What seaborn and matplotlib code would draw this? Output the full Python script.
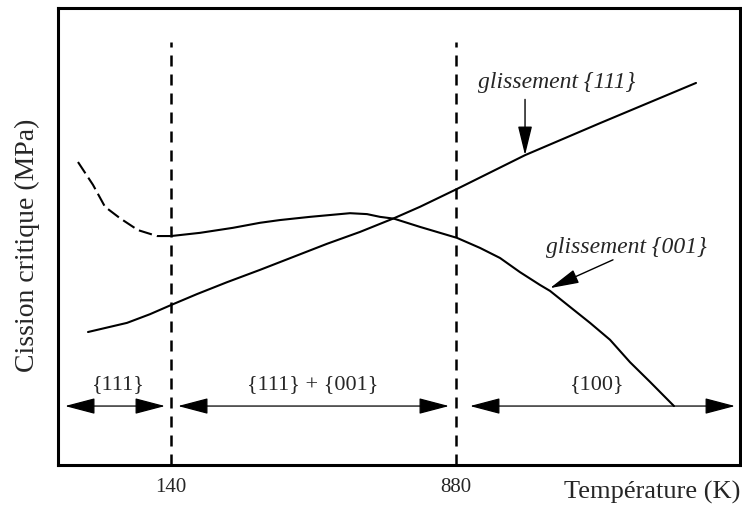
import matplotlib
matplotlib.use("Agg")
import matplotlib.pyplot as plt
import seaborn as sns
import pandas as pd

# Schematic axes: temperature position (0-100) and critical resolved shear stress (0-100, arbitrary)
tick_pos = [16.57, 58.36]
tick_labels = ["140", "880"]

# glissement {111}
t111 = [4.40, 10.12, 13.49, 16.57, 20.38, 24.78, 29.62, 39.44, 44.28, 49.27, 53.08,
        58.50, 68.48, 79.47, 93.55]
s111 = [29.1, 31.1, 33.0, 35.0, 37.4, 40.0, 42.7, 48.4, 51.0, 54.0, 56.5,
        60.4, 67.8, 74.8, 83.6]

# glissement {001}, low-temperature extrapolation (dashed)
t001_low = [2.93, 5.13, 6.89, 9.09, 11.73, 14.52, 16.57]
s001_low = [66.3, 61.3, 56.5, 54.0, 51.4, 50.1, 50.1]

# glissement {001}, solid part
t001 = [16.57, 20.82, 25.66, 29.62, 32.55, 36.95, 39.88, 42.82, 45.31, 47.21, 49.27,
        53.08, 58.50, 61.88, 64.81, 67.74, 70.67, 72.14, 75.07, 78.01, 80.94, 83.87,
        86.80, 90.32]
s001 = [50.1, 50.8, 51.9, 53.0, 53.6, 54.3, 54.7, 55.1, 54.9, 54.3, 53.9,
        52.1, 49.7, 47.5, 45.3, 42.2, 39.4, 38.1, 34.6, 31.1, 27.4, 22.5,
        18.2, 12.9]

# Active slip-system domains
domain_labels = ["{111}", "{111} + {001}", "{100}"]
domain_start = [1.03, 17.60, 60.41]
domain_end = [15.69, 57.33, 99.27]
domain_label_x = [8.80, 37.39, 79.03]

sns.set_style("white")
plt.rcParams["font.family"] = ["Liberation Serif", "DejaVu Serif"]

fig = plt.figure(figsize=(7.42, 5.07), dpi=100)
ax = fig.add_axes([58 / 742, 1 - 465 / 507, 682 / 742, 457 / 507])

df111 = pd.DataFrame({"T": t111, "tau": s111})
df001_low = pd.DataFrame({"T": t001_low, "tau": s001_low})
df001 = pd.DataFrame({"T": t001, "tau": s001})

sns.lineplot(data=df111, x="T", y="tau", sort=False, color="black", lw=1.5, ax=ax)
sns.lineplot(data=df001, x="T", y="tau", sort=False, color="black", lw=1.5, ax=ax)
sns.lineplot(data=df001_low, x="T", y="tau", sort=False, color="black", lw=1.5,
             linestyle=(0, (6.5, 2.5)), ax=ax)

# Transition temperatures
for xp in tick_pos:
    ax.plot([xp, xp], [0, 92.6], color="black", lw=1.8, linestyle=(0, (4.4, 3.2)))

# Domain arrows and labels
arrow_y = 12.9
for lab, x0, x1, xl in zip(domain_labels, domain_start, domain_end, domain_label_x):
    ax.annotate("", xy=(x1, arrow_y), xytext=(x0, arrow_y),
                arrowprops=dict(arrowstyle="<|-|>,head_length=0.95,head_width=0.25",
                                mutation_scale=20, color="black", lw=0.9,
                                shrinkA=0, shrinkB=0))
    ax.text(xl, 17.6, lab, ha="center", va="center", fontsize=16)

# Curve annotations
pointer = dict(arrowstyle="-|>,head_length=0.9,head_width=0.22",
               mutation_scale=20, color="black", lw=1.0, shrinkA=0, shrinkB=0)
ax.annotate("", xy=(68.48, 67.8), xytext=(68.48, 80.0), arrowprops=pointer)
ax.text(73.17, 83.6, "glissement {111}", fontsize=17, style="italic",
        ha="center", va="center")
ax.annotate("", xy=(72.14, 38.7), xytext=(81.38, 44.9), arrowprops=pointer)
ax.text(83.28, 47.5, "glissement {001}", fontsize=17, style="italic",
        ha="center", va="center")

ax.set_xlim(0, 100)
ax.set_ylim(0, 100)
ax.set_xticks(tick_pos)
ax.set_xticklabels(tick_labels, fontsize=15)
ax.set_yticks([])
ax.tick_params(axis="x", length=0, pad=9)

ax.set_xlabel("Température (K)", fontsize=19, loc="right")
ax.xaxis.label.set_va("center")
ax.xaxis.set_label_coords(1.0, -0.059)
ax.set_ylabel("Cission critique (MPa)", fontsize=20)
ax.yaxis.label.set_va("center")
ax.yaxis.set_label_coords(-0.0455, 0.481)

for sp in ax.spines.values():
    sp.set_visible(True)
    sp.set_color("black")
    sp.set_linewidth(2.2)

fig.savefig("out.png", dpi=100)
